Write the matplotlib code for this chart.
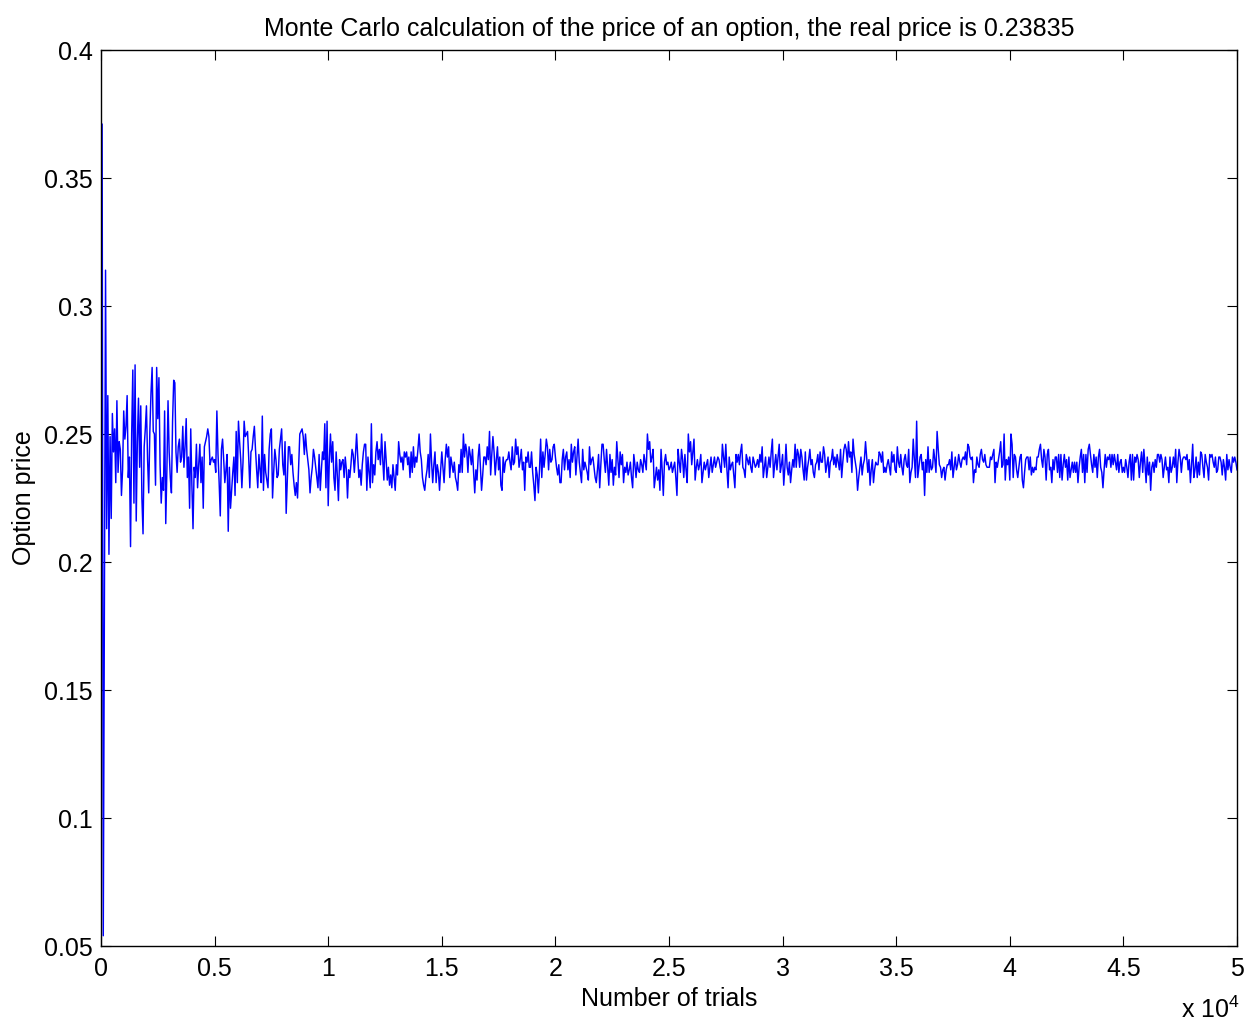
import numpy as np
import matplotlib
matplotlib.use("Agg")
import matplotlib.pyplot as plt

# Option price estimates (in thousandths), one per 50 trials
price_start = [
    371, 54, 190, 314, 213, 265, 203, 249, 217, 258,
    243, 252, 231, 263, 235, 247, 244, 226, 236, 259,
    248, 253, 265, 233, 241, 206, 250, 275, 223, 277,
    216, 247, 264, 237, 261, 225, 211, 245, 252, 261,
    240, 227, 251, 266, 276, 251, 250, 230, 276, 256,
    272, 238, 223, 233, 228, 259, 215, 236, 263, 243,
    233, 227, 255, 271, 270, 243, 235, 245,
]
price_seg1 = [
    248, 239, 241, 253, 237, 245, 256, 233, 241, 221,
    252, 230, 213, 237, 233, 246, 229, 238, 246, 231,
    241, 221, 245, 247, 249, 252, 249, 238, 240, 241,
    239, 240, 235, 259, 242, 231, 218, 244, 248, 240,
    231, 236, 242, 212, 237, 221, 228, 235, 241, 226,
    251, 231, 255, 247, 240, 229, 239, 255, 249, 250,
    251, 241, 229, 243, 244, 249, 253, 244, 236, 229,
    242, 236, 231, 257, 228, 242, 235, 232, 229, 244,
    250, 252, 225, 235, 244, 240, 233, 234, 244, 248,
    252, 238, 234, 247, 219, 232, 245, 245, 238, 242,
    235, 230, 226, 231, 225, 237, 250, 251, 252, 249,
    242, 250, 244, 240, 236, 227, 233, 237, 244, 241,
    237, 233, 229, 242, 228, 236, 243, 240, 254, 229,
    255, 222, 240,
]
price_seg2 = [
    250, 239, 247, 233, 228, 243, 234, 224, 240, 236,
    239, 240, 233, 241, 236, 225, 236, 233, 238, 244,
    242, 235, 242, 250, 241, 233, 236, 230, 238, 243,
    246, 246, 228, 241, 235, 229, 254, 231, 238, 234,
    243, 247, 240, 244, 238, 250, 240, 232, 247, 240,
    232, 237, 230, 234, 229, 238, 233, 228, 238, 234,
    247, 242, 239, 241, 236, 243, 241, 243, 238, 241,
    233, 243, 235, 245, 237, 241, 239, 244, 250, 243,
    240, 233, 230, 228, 233, 236, 242, 233, 250, 239,
    231, 238, 243, 231, 238, 235, 228, 236, 243, 237,
    231, 240, 246, 241, 245, 233, 241, 238, 235, 239,
    233, 231, 228, 238, 235, 244, 235, 250, 241, 246,
    243, 235, 245, 242, 238, 244, 235, 227, 236, 232,
    241, 246, 237, 228, 234, 241, 241, 238, 245, 240,
    251, 234, 242, 249, 243, 234, 240, 245, 236, 241,
    230, 228, 241, 235, 239, 240, 240, 243, 239, 236,
    245, 238, 239, 248, 242, 245, 237, 240, 244, 236,
    239, 228, 241, 239, 243, 237, 237, 243, 235, 230,
    224, 237, 234, 227, 236, 248, 233, 243, 237, 242,
    248, 245, 236, 244, 239, 240, 245, 246, 241, 237,
    234, 238, 231, 231, 240, 244, 236, 241, 243, 236,
    240, 233,
]
price_seg3 = [
    246, 239, 243, 245, 234, 241, 248, 239, 235, 231, 244, 236, 239, 237, 235,
    232, 245, 238, 240, 241, 237, 233, 231, 236, 242, 229, 238, 246, 246, 240,
    235, 244, 237, 230, 242, 235, 240, 230, 237, 234, 247, 240, 233, 243, 238,
    242, 231, 237, 235, 239, 234, 236, 239, 233, 229, 242, 238, 233, 239, 236,
    235, 240, 238, 235, 242, 239, 236, 250, 244, 247, 239, 241, 244, 229, 233,
    237, 232, 236, 228, 244, 236, 226, 239, 242, 238, 239, 236, 237, 239, 235,
    237, 239, 233, 226, 244, 239, 235, 244, 240, 233, 242, 236, 231, 250, 243,
    247, 238, 243, 248, 232, 237, 240, 236, 238, 242, 231, 235, 239, 236, 238,
    240, 233, 237, 241, 235, 238, 241, 237, 239, 241, 240, 237, 235, 246, 241,
    237, 246, 236, 229, 241, 236, 238, 239, 234, 229, 242, 239, 242, 238, 243,
    246, 237, 236, 233, 242, 240, 238, 241, 237, 235, 241, 239, 237, 238, 240,
    237, 242, 239, 245, 233, 237, 241, 233, 237, 241, 237, 243, 248, 233, 238,
    242, 236, 241, 246, 235, 238, 242, 230, 237, 246, 237, 234, 239, 231, 236,
    240, 237, 246, 237, 244, 242, 237,
]
price_seg4 = [
    244, 241, 236, 232, 243, 232, 237, 240, 244, 238, 240, 235, 233, 238,
    239, 242, 236, 243, 239, 239, 245, 242, 235, 238, 241, 233, 239, 240,
    244, 238, 241, 237, 242, 239, 236, 244, 233, 239, 244, 246, 244, 239,
    247, 241, 243, 235, 248, 242, 239, 236, 228, 233, 237, 241, 234, 238,
    240, 247, 241, 235, 240, 230, 236, 240, 231, 236, 239, 238, 238, 243,
    242, 239, 243, 235, 237, 235, 238, 240, 237, 234, 243, 239, 242, 236,
    235, 245, 239, 237, 242, 237, 234, 240, 242, 238, 237, 244, 231, 235,
    237, 248, 240, 233, 255, 233, 237, 241, 242, 236, 239, 226, 240, 235,
    245, 235, 240, 236, 237, 244, 240, 235, 251, 244, 238, 237, 233, 236,
    237, 232, 236, 238, 238, 240, 236, 243, 233, 237, 241, 236, 238, 242,
    239, 237, 240, 241, 240, 243, 238, 246, 245, 241, 240, 241, 231, 236,
    235, 241, 238, 237, 242, 244, 240, 239, 242, 238, 237, 237, 237, 241,
    240, 242, 244, 231, 239, 237, 240, 243, 247, 237, 238,
    250, 232, 240, 238, 241, 232,
]
price_end = [
    250, 246, 233, 242, 241, 236, 233, 237, 241, 242, 232,
    229, 235, 240, 241, 241, 236, 241, 234, 237, 235, 237,
    236, 241, 241, 244, 246, 240, 237, 244, 241, 232, 242,
    244, 236, 237, 231, 240, 236, 241, 241, 235, 242, 233,
    242, 232, 238, 242, 237, 240, 232, 241, 233, 236, 239,
    235, 239, 235, 239, 231, 237, 241, 244, 235, 242, 231,
    242, 235, 244, 246, 242, 238, 235, 242, 237, 241, 233,
    241, 244, 237, 235, 229, 236, 242, 237, 241, 240, 242,
    237, 242, 238, 242, 239, 236, 242, 235, 239, 240, 235,
    237, 235, 240, 237, 233, 239, 242, 232, 242, 232, 241,
    239, 242, 240, 233, 239, 243, 235, 244, 238, 231, 241,
    234, 239, 228, 237, 239, 235, 240, 237, 242, 242, 239,
    242, 240, 233, 237, 241, 236, 237, 231, 241, 235, 237,
    241, 237, 244, 231, 239, 244, 241, 235, 240, 241, 241,
    240, 242, 236, 240, 231, 238, 246, 233, 236, 241, 233,
    239, 234, 243, 242, 237, 233, 242, 239, 237, 232, 242,
    241, 242, 239, 237, 241, 235, 236, 241, 241, 239, 234,
    240, 237, 232, 242, 236, 240, 237, 235, 241, 239, 241,
    239, 236,
]

trial_step = 50
x_ticks = [0, 5000, 10000, 15000, 20000, 25000, 30000, 35000, 40000, 45000, 50000]
x_tick_labels = ["0", "0.5", "1", "1.5", "2", "2.5", "3", "3.5", "4", "4.5", "5"]
y_ticks = [0.05, 0.1, 0.15, 0.2, 0.25, 0.3, 0.35, 0.4]
y_tick_labels = ["0.05", "0.1", "0.15", "0.2", "0.25", "0.3", "0.35", "0.4"]

prices = np.array(price_start + price_seg1 + price_seg2 + price_seg3
                  + price_seg4 + price_end) / 1000.0
trials = trial_step * np.arange(1, len(prices) + 1)

plt.rcParams['font.family'] = ['Liberation Sans', 'DejaVu Sans']
plt.rcParams['mathtext.fontset'] = 'custom'
plt.rcParams['mathtext.rm'] = 'Liberation Sans'
plt.rcParams['mathtext.it'] = 'Liberation Sans'

fig = plt.figure(figsize=(12.5, 10.22), dpi=100)
ax = fig.add_axes([101 / 1250, 1 - 946 / 1022, 1136 / 1250, 896 / 1022])

ax.plot(trials, prices, color=(0, 0, 1), linewidth=1.05)

ax.set_xlim(0, 50000)
ax.set_ylim(0.05, 0.4)
ax.set_xticks(x_ticks)
ax.set_xticklabels(x_tick_labels)
ax.set_yticks(y_ticks)
ax.set_yticklabels(y_tick_labels)

fs = 18
ax.tick_params(axis='both', which='both', direction='in', length=7.5, width=0.8,
               top=True, right=True, labelsize=fs, colors='black')
ax.tick_params(axis='x', pad=8)
ax.tick_params(axis='y', pad=6)
for s in ax.spines.values():
    s.set_linewidth(1.0)
    s.set_color('black')

ax.set_title("Monte Carlo calculation of the price of an option, the real price is 0.23835",
             fontsize=fs, pad=10)
ax.set_xlabel("Number of trials", fontsize=fs, labelpad=4)
ax.set_ylabel("Option price", fontsize=fs, labelpad=6)

ax.text(0.9507, -0.057, r"x 10$^{4}$", transform=ax.transAxes, ha='left', va='top',
        fontsize=fs)

fig.savefig("out.png", dpi=100)
